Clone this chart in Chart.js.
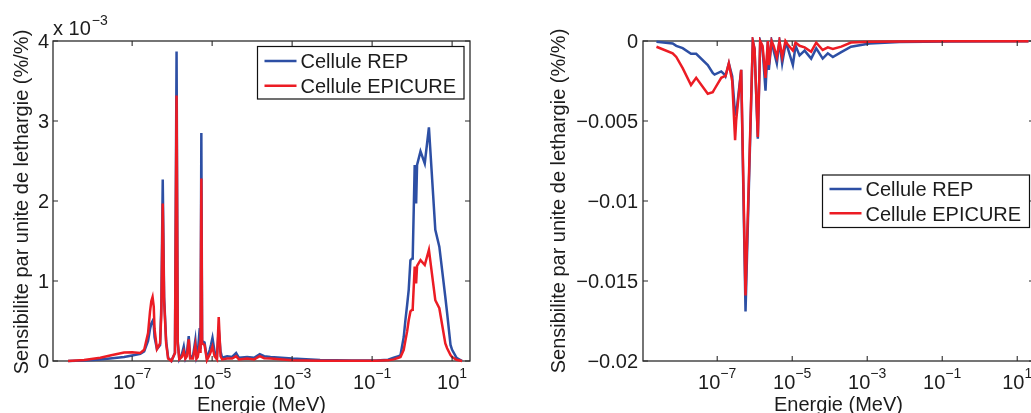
<!DOCTYPE html>
<html><head><meta charset="utf-8">
<script src="https://cdn.jsdelivr.net/npm/chart.js@4.4.1/dist/chart.umd.min.js"></script>
<style>
html,body{margin:0;padding:0;background:#fff;overflow:hidden;width:1031px;height:413px;position:relative;}
#wrapL{position:absolute;left:0;top:0;width:520px;height:413px;}
#wrapR{position:absolute;left:520px;top:0;width:540px;height:413px;}
canvas{display:block;}
</style></head><body>
<div id="wrapL"><canvas id="cL" width="520" height="413"></canvas></div>
<div id="wrapR"><canvas id="cR" width="540" height="413"></canvas></div>
<script>
// ---------- data ----------
const seriesNames = ['Cellule REP', 'Cellule EPICURE'];

// Left panel: sensitivity per unit lethargy (x 10^-3)
const energyLeft = [2.5e-9, 6.3e-9, 1.6e-8, 3.2e-8, 6.3e-8, 1.0e-7, 1.6e-7, 2.0e-7, 2.5e-7, 2.8e-7,
  3.02e-7, 3.24e-7, 3.47e-7, 3.63e-7, 4.17e-7, 5.0e-7, 5.37e-7, 5.82e-7, 6.3e-7, 7.08e-7, 7.94e-7, 9.55e-7,
  1.175e-6, 1.29e-6, 1.38e-6, 1.51e-6, 1.74e-6, 1.95e-6, 2.14e-6, 2.34e-6, 2.6e-6, 2.82e-6,
  3.31e-6, 3.8e-6, 4.07e-6, 4.37e-6, 4.9e-6, 5.13e-6, 5.37e-6, 5.62e-6, 6.46e-6, 7.41e-6,
  8.71e-6, 9.33e-6, 1.02e-5, 1.15e-5, 1.32e-5, 1.46e-5, 1.62e-5, 1.78e-5, 2.37e-5, 3.16e-5,
  3.98e-5, 4.68e-5, 7.5e-5, 1.12e-4, 1.55e-4, 2.0e-4, 2.88e-4, 1e-3, 5e-3, 3.16e-2,
  0.126, 0.251, 0.347, 0.457, 0.513, 0.617, 0.676, 0.75, 0.822, 0.907,
  1.0, 1.035, 1.16, 1.26, 1.33, 1.62, 2.07, 2.63, 3.8, 4.79,
  6.76, 7.5, 9.12, 10, 12.9, 17.8];
const repLeft = [0, 0.005, 0.02, 0.035, 0.05, 0.07, 0.09, 0.12, 0.25, 0.4,
  0.47, 0.5, 0.45, 0.3, 0.15, 0.2, 0.7, 2.27, 0.8, 0.25, 0.04, 0.0,
  0.1, 3.87, 0.25, 0.02, 0.08, 0.18, 0.04, 0.1, 0.31, 0.05,
  0.06, 0.26, 0.05, 0.1, 0.41, 0.15, 2.85, 0.25, 0.23, 0.03,
  0.14, 0.2, 0.29, 0.12, 0.05, 0.4, 0.12, 0.04, 0.06, 0.05,
  0.1, 0.04, 0.05, 0.04, 0.085, 0.06, 0.05, 0.03, 0.013, 0.006,
  0.006, 0.015, 0.04, 0.06, 0.075, 0.3, 0.5, 0.7, 0.89, 1.26,
  1.28, 1.3, 2.45, 1.97, 2.45, 2.62, 2.47, 2.92, 1.64, 1.43,
  0.8, 0.6, 0.2, 0.14, 0.04, 0];
const epicureLeft = [0, 0.012, 0.04, 0.075, 0.105, 0.11, 0.1, 0.14, 0.35, 0.62,
  0.75, 0.8, 0.68, 0.4, 0.15, 0.22, 0.6, 1.97, 0.75, 0.22, 0.03, 0.0,
  0.1, 3.32, 0.22, 0.02, 0.05, 0.12, 0.03, 0.06, 0.27, 0.03,
  0.03, 0.2, 0.03, 0.05, 0.2, 0.1, 2.28, 0.22, 0.2, 0.01,
  0.08, 0.12, 0.18, 0.06, 0.02, 0.55, 0.06, 0.02, 0.03, 0.03,
  0.06, 0.02, 0.03, 0.02, 0.06, 0.035, 0.03, 0.01, 0.003, 0.002,
  0.002, 0.008, 0.02, 0.04, 0.05, 0.14, 0.25, 0.37, 0.51, 0.62,
  0.64, 0.66, 1.18, 0.97, 1.19, 1.26, 1.2, 1.39, 0.76, 0.66,
  0.22, 0.16, 0.075, 0.05, 0.015, 0];

// Right panel: sensitivity per unit lethargy
const energyRight = [2.4e-9, 6.5e-9, 8.1e-9, 1.2e-8, 2.0e-8, 2.75e-8, 5.6e-8, 7.6e-8, 8.5e-8, 1.28e-7,
  1.57e-7, 1.66e-7, 2.04e-7, 2.51e-7, 3.0e-7, 3.2e-7, 4.36e-7, 5.69e-7, 8.9e-7, 9.9e-7,
  1.21e-6, 1.4e-6, 1.62e-6, 1.94e-6, 2.24e-6, 2.38e-6, 2.82e-6, 3.2e-6, 3.89e-6, 4.57e-6,
  5.4e-6, 6.6e-6, 7.5e-6, 1.04e-5, 1.23e-5, 1.57e-5, 2.14e-5, 3.2e-5, 4.37e-5, 6.5e-5,
  8.9e-5, 1.21e-4, 2.03e-4, 3.7e-4, 1.15e-3, 7.2e-3, 0.16, 20];
const repRight = [-0.00004, -0.00015, -0.0003, -0.00045, -0.0008, -0.0008, -0.0015, -0.002, -0.0021, -0.0019,
  -0.0021, -0.0022, -0.0014, -0.0022, -0.0046, -0.0046, -0.0018, -0.0169, 0, -0.0005,
  -0.0061, 0, -0.0005, -0.0031, 0, -0.0018, 0, -0.0006, -0.0014, 0,
  -0.0014, -0.0002, -0.0004, -0.0015, -0.0003, -0.0009, -0.0006, -0.0011, -0.00046, -0.0011,
  -0.00077, -0.001, -0.0007, -0.00036, -0.00015, -0.00006, -0.00003, -0.00002];
const epicureRight = [-0.00036, -0.00077, -0.001, -0.0017, -0.00275, -0.0023, -0.0033, -0.0032, -0.003, -0.0023,
  -0.0022, -0.0022, -0.0014, -0.0025, -0.0062, -0.005, -0.0018, -0.0159, 0, -0.0005,
  -0.006, 0, -0.0003, -0.0023, 0, -0.0015, 0, -0.0003, -0.001, 0,
  -0.001, 0, -0.0002, -0.0006, -0.0001, -0.0003, -0.0004, -0.00067, -0.0001, -0.00056,
  -0.0004, -0.0005, -0.00035, -0.0001, -0.00005, -0.00003, -0.00002, -0.00001];

// tick labels
const xTickValues = [1e-7, 1e-5, 1e-3, 1e-1, 1e1];
const xTickExponents = ['\u22127', '\u22125', '\u22123', '\u22121', '1'];
const yTicksLeft = [0, 1, 2, 3, 4];
const yTickLabelsLeft = ['0', '1', '2', '3', '4'];
const yTicksRight = [0, -0.005, -0.01, -0.015, -0.02];
const yTickLabelsRight = ['0', '\u22120.005', '\u22120.01', '\u22120.015', '\u22120.02'];
const xTitle = 'Energie (MeV)';
const yTitle = 'Sensibilite par unite de lethargie (%/%)';
const multiplierBase = 'x 10';
const multiplierExp = '\u22123';

// ---------- style ----------
const BLUE = '#2d4fa4';
const RED = '#ec1c24';
const AXIS = '#2b2b2b';
const TEXT = '#1c1c1c';
const FONT = '"Liberation Sans", Arial, Helvetica, sans-serif';

function pts(xs, ys) { return xs.map((e, i) => ({ x: e, y: ys[i] })); }

function makePlugin(cfg) {
  return {
    id: 'matlab' + cfg.id,
    beforeDatasetsDraw(chart) {
      const { ctx, chartArea: a } = chart;
      ctx.save();
      ctx.strokeStyle = AXIS;
      ctx.lineWidth = 1.3;
      ctx.strokeRect(a.left, a.top, a.right - a.left, a.bottom - a.top);
      ctx.restore();
    },
    afterDraw(chart) {
      const { ctx, chartArea: a, scales } = chart;
      const x = scales.x, y = scales.y;
      ctx.save();
      ctx.strokeStyle = AXIS;
      ctx.lineWidth = 1.1;
      ctx.beginPath();
      xTickValues.forEach(v => {
        const px = x.getPixelForValue(v);
        ctx.moveTo(px, a.bottom); ctx.lineTo(px, a.bottom - 5);
        ctx.moveTo(px, a.top); ctx.lineTo(px, a.top + 5);
      });
      cfg.yTicks.forEach(v => {
        const py = y.getPixelForValue(v);
        ctx.moveTo(a.left, py); ctx.lineTo(a.left + 5, py);
        ctx.moveTo(a.right, py); ctx.lineTo(a.right - 5, py);
      });
      ctx.stroke();

      ctx.fillStyle = TEXT;
      ctx.textBaseline = 'alphabetic';
      // x tick labels
      xTickValues.forEach((v, i) => {
        const px = x.getPixelForValue(v);
        ctx.font = '20px ' + FONT;
        const wb = ctx.measureText('10').width;
        ctx.font = '14px ' + FONT;
        const we = ctx.measureText(xTickExponents[i]).width;
        const start = px - (wb + we) / 2;
        ctx.font = '20px ' + FONT;
        ctx.textAlign = 'left';
        ctx.fillText('10', start, a.bottom + 28);
        ctx.font = '14px ' + FONT;
        ctx.fillText(xTickExponents[i], start + wb, a.bottom + 17);
      });
      // y tick labels
      ctx.font = '20px ' + FONT;
      ctx.textAlign = 'right';
      cfg.yTicks.forEach((v, i) => {
        const py = y.getPixelForValue(v);
        ctx.fillText(cfg.yLabels[i], a.left - cfg.yLabelGap, py + 7);
      });
      // x title
      ctx.textAlign = 'center';
      ctx.fillText(xTitle, (a.left + cfg.xTitleRight) / 2, 410.5);
      // y title
      ctx.save();
      ctx.translate(cfg.yTitleX, cfg.yTitleY);
      ctx.rotate(-Math.PI / 2);
      ctx.textAlign = 'center';
      ctx.fillText(yTitle, 0, 0);
      ctx.restore();
      // multiplier
      if (cfg.multiplier) {
        ctx.textAlign = 'left';
        ctx.font = '20px ' + FONT;
        ctx.fillText(multiplierBase, a.left, 35);
        const w = ctx.measureText(multiplierBase).width;
        ctx.font = '14px ' + FONT;
        ctx.fillText(multiplierExp, a.left + w + 1, 25);
      }
      // legend
      const L = cfg.legend;
      ctx.fillStyle = '#ffffff';
      ctx.fillRect(L.x, L.y, L.w, L.h);
      ctx.strokeStyle = '#111111';
      ctx.lineWidth = 1.2;
      ctx.strokeRect(L.x, L.y, L.w, L.h);
      const cols = [BLUE, RED];
      ctx.font = '20px ' + FONT;
      ctx.textAlign = 'left';
      seriesNames.forEach((n, i) => {
        const ly = L.y + L.row0 + i * L.rowGap;
        ctx.strokeStyle = cols[i];
        ctx.lineWidth = 2.5;
        ctx.beginPath();
        ctx.moveTo(L.x + 7, ly); ctx.lineTo(L.x + 39, ly);
        ctx.stroke();
        ctx.fillStyle = TEXT;
        ctx.fillText(n, L.x + 43, ly + 7.3);
      });
      ctx.restore();
    }
  };
}

function makeChart(canvasId, xs, rep, epi, yMin, yMax, pad, yWidth, xHeight, plugin) {
  return new Chart(document.getElementById(canvasId), {
    type: 'line',
    data: {
      datasets: [
        { label: seriesNames[1], data: pts(xs, epi), borderColor: RED, borderWidth: 2.5, pointRadius: 0, tension: 0, fill: false, clip: 4, order: 0 },
        { label: seriesNames[0], data: pts(xs, rep), borderColor: BLUE, borderWidth: 2.5, pointRadius: 0, tension: 0, fill: false, clip: 4, order: 1 }
      ]
    },
    options: {
      responsive: false,
      animation: false,
      events: [],
      devicePixelRatio: 1,
      layout: { padding: pad, autoPadding: false },
      plugins: { legend: { display: false }, tooltip: { enabled: false } },
      scales: {
        x: {
          type: 'logarithmic', min: 1.05e-9, max: 28,
          grid: { display: false }, border: { display: false },
          ticks: { display: false },
          afterFit: s => { s.height = xHeight; }
        },
        y: {
          type: 'linear', min: yMin, max: yMax,
          grid: { display: false }, border: { display: false },
          ticks: { display: false },
          afterFit: s => { s.width = yWidth; }
        }
      }
    },
    plugins: [plugin]
  });
}

makeChart('cL', energyLeft, repLeft, epicureLeft, 0, 4,
  { left: 0, right: 50, top: 41, bottom: 0 }, 53, 52,
  makePlugin({ id: 'L', yTicks: yTicksLeft, yLabels: yTickLabelsLeft, yLabelGap: 4,
    xTitleRight: 470, yTitleX: 28, yTitleY: 202, multiplier: true,
    legend: { x: 257.5, y: 46.5, w: 206.5, h: 52.5, row0: 14.5, rowGap: 24.7 } }));

makeChart('cR', energyRight, repRight, epicureRight, -0.02, 0,
  { left: 0, right: 26, top: 41, bottom: 0 }, 123, 52,
  makePlugin({ id: 'R', yTicks: yTicksRight, yLabels: yTickLabelsRight, yLabelGap: 5,
    xTitleRight: 514, yTitleX: 45, yTitleY: 201, multiplier: false,
    legend: { x: 302.5, y: 175, w: 207, h: 52.5, row0: 14, rowGap: 24.3 } }));
</script>
</body></html>
